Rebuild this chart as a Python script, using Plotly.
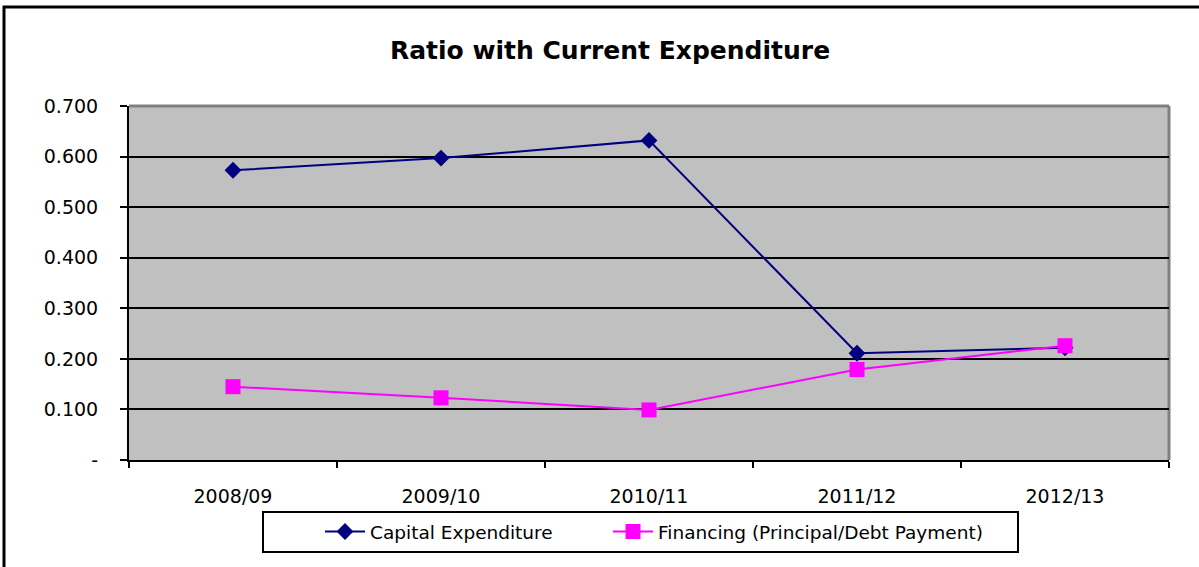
import plotly.graph_objects as go

years = ["2008/09", "2009/10", "2010/11", "2011/12", "2012/13"]
capital = [0.573, 0.597, 0.632, 0.211, 0.222]
financing = [0.145, 0.123, 0.099, 0.179, 0.226]
y_ticks = [0, 0.1, 0.2, 0.3, 0.4, 0.5, 0.6, 0.7]
y_labels = ["-", "0.100", "0.200", "0.300", "0.400", "0.500", "0.600", "0.700"]

W, H = 1199, 567
L, R, T, B = 129, 30, 106, 107
pw, ph = W - L - R, H - T - B


def px_x(x):
    return (x - L) / pw


def px_y(y):
    return (H - B - y) / ph


fig = go.Figure()
fig.add_trace(go.Scatter(
    x=years, y=capital, name="Capital Expenditure", mode="lines+markers",
    line=dict(color="#000080", width=2),
    marker=dict(symbol="diamond", size=13, color="#000080"),
    legend="legend",
))
fig.add_trace(go.Scatter(
    x=years, y=financing, name="Financing (Principal/Debt Payment)", mode="lines+markers",
    line=dict(color="#FF00FF", width=2),
    marker=dict(symbol="square", size=15, color="#FF00FF"),
    legend="legend2",
))

font = "DejaVu Sans"
leg_common = dict(orientation="h", xanchor="left", y=px_y(532), yanchor="middle",
                  borderwidth=0, bgcolor="rgba(0,0,0,0)",
                  font=dict(family=font, size=18.5, color="black"), itemwidth=40)

fig.update_layout(
    width=W, height=H,
    margin=dict(l=L, r=R, t=T, b=B, pad=0),
    paper_bgcolor="white", plot_bgcolor="#C0C0C0",
    font=dict(family=font, size=19, color="black"),
    title=dict(text="<b>Ratio with Current Expenditure</b>",
               font=dict(family=font, size=25, color="black"),
               xref="container", x=610 / W, xanchor="center",
               yref="container", y=1 - 50 / H, yanchor="middle"),
    showlegend=True,
    legend=dict(x=px_x(320), **leg_common),
    legend2=dict(x=px_x(608), **leg_common),
    xaxis=dict(type="category", range=[-0.5, 4.5], tickson="boundaries",
               ticks="outside", ticklen=6, tickwidth=2, tickcolor="black",
               showline=True, linecolor="black", linewidth=2, showgrid=False,
               ticklabelstandoff=18, zeroline=False),
    yaxis=dict(range=[0, 0.7], tickvals=y_ticks, ticktext=y_labels,
               ticks="outside", ticklen=7, tickwidth=2, tickcolor="black",
               showline=True, linecolor="black", linewidth=2,
               showgrid=True, gridcolor="black", gridwidth=2,
               zeroline=False, ticklabelstandoff=18),
    shapes=[
        dict(type="line", xref="paper", yref="paper", x0=0, x1=1, y0=1, y1=1,
             line=dict(color="#808080", width=3), layer="above"),
        dict(type="line", xref="paper", yref="paper", x0=1, x1=1, y0=0, y1=1,
             line=dict(color="#808080", width=3), layer="below"),
        dict(type="rect", xref="paper", yref="paper",
             x0=px_x(4), x1=1.2, y0=-0.5, y1=px_y(7),
             line=dict(color="black", width=3), fillcolor="rgba(0,0,0,0)",
             layer="above"),
        dict(type="rect", xref="paper", yref="paper",
             x0=px_x(263), x1=px_x(1018), y0=px_y(552), y1=px_y(512),
             line=dict(color="black", width=2), fillcolor="white",
             layer="below"),
    ],
)

fig.write_html("out.html", config={"displayModeBar": False},
               post_script="document.body.style.margin='0';document.body.style.overflow='hidden';")
